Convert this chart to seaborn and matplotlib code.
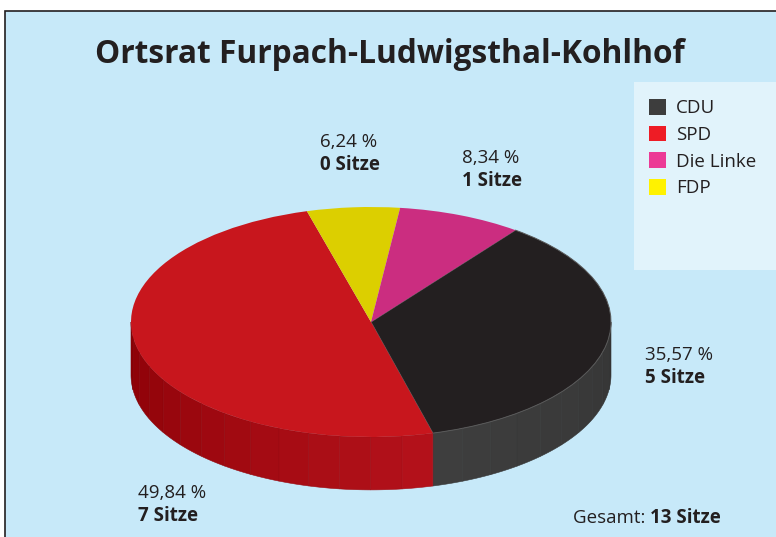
import numpy as np
import matplotlib.pyplot as plt
import seaborn as sns
from matplotlib.patches import Rectangle, Polygon, Patch
from matplotlib.colors import to_rgb

# election result, Ortsrat Furpach-Ludwigsthal-Kohlhof
parties = ["CDU", "SPD", "Die Linke", "FDP"]
shares = [35.57, 49.84, 8.34, 6.24]
seats = [5, 7, 1, 0]
total_seats = 13

# clockwise order of the slices in the pie
pie_order = ["CDU", "SPD", "FDP", "Die Linke"]

top_colors = {"CDU": "#231f20", "SPD": "#c8161d", "Die Linke": "#cb2d80", "FDP": "#dccf00"}
legend_colors = {"CDU": "#3d3d3d", "SPD": "#ee1c25", "Die Linke": "#ec3a96", "FDP": "#fff200"}
side_colors = {"CDU": ("#3e3e3e", "#363636"), "SPD": ("#8a0006", "#b5121b"),
               "Die Linke": ("#8e1f5a", "#8e1f5a"), "FDP": ("#9a9100", "#9a9100")}

W, H = 776, 537
BG = "#c7e9f9"
TXT = "#231f20"

sns.set_theme(style="white")
plt.rcParams["font.family"] = ["Open Sans", "DejaVu Sans"]

fig = plt.figure(figsize=(W / 100, H / 100), dpi=100)
fig.patch.set_facecolor("white")

def px(x, y):
    return x / W, 1 - y / H

# framed light blue panel (runs off the right and bottom edges)
fig.add_artist(Rectangle(px(5, H + 10), (W + 5) / W, (H - 1) / H, transform=fig.transFigure,
                         facecolor=BG, edgecolor=TXT, linewidth=1.2, zorder=0))
# legend panel
fig.add_artist(Rectangle(px(634, 270), (W - 634 + 5) / W, (270 - 82) / H, transform=fig.transFigure,
                         facecolor="#e1f3fb", edgecolor="none", zorder=0.5))

ax = fig.add_axes([0, 0, 1, 1])
ax.set_facecolor("none")

vals = [shares[parties.index(p)] for p in pie_order]
wedges, _ = ax.pie(vals, startangle=53, counterclock=False,
                   colors=[top_colors[p] for p in pie_order],
                   wedgeprops=dict(linewidth=0))
wedges[0].set_edgecolor("#5a5a5a")
wedges[0].set_linewidth(0.7)
for w in wedges:
    w.set_zorder(3)

# side wall of the visible (front) half
depth = 0.46
for w, p in zip(wedges, pie_order):
    t1, t2 = w.theta1, w.theta2
    for off in (-360, 0, 360):
        lo, hi = max(t1, 180 + off), min(t2, 360 + off)
        if hi <= lo:
            continue
        c0, c1 = np.array(to_rgb(side_colors[p][0])), np.array(to_rgb(side_colors[p][1]))
        nf = max(1, int((hi - lo) / 7))
        edges = np.linspace(lo, hi, nf + 1)
        for k in range(nf):
            f = (k + 0.5) / nf
            col = c0 + (c1 - c0) * f
            th = np.radians(np.linspace(edges[k], edges[k + 1], 12))
            top = np.column_stack([np.cos(th), np.sin(th)])
            bot = np.column_stack([np.cos(th), np.sin(th) - depth])[::-1]
            ax.add_patch(Polygon(np.vstack([top, bot]), closed=True, facecolor=col,
                                 edgecolor=np.clip(col * 0.92, 0, 1), linewidth=0.4, zorder=2))

# stretch the unit pie into an ellipse
cx, cy, rx, ry = 371, 322, 240, 115
ax.set_aspect("auto")
ax.set_xlim(-cx / rx, (W - cx) / rx)
ax.set_ylim(-(H - cy) / ry, cy / ry)
ax.axis("off")

fig.text(*px(390, 63), "Ortsrat Furpach-Ludwigsthal-Kohlhof", ha="center", va="baseline",
         fontsize=22.8, fontweight="bold", color=TXT)

label_anchor = {"CDU": (645, 360), "SPD": (138, 498), "Die Linke": (462, 163), "FDP": (320, 147)}
for p, s, n in zip(parties, shares, seats):
    x, y = label_anchor[p]
    fig.text(*px(x, y), f"{s:.2f} %".replace(".", ","), ha="left", va="baseline",
             fontsize=13.5, color=TXT)
    fig.text(*px(x, y + 23), f"{n} Sitze", ha="left", va="baseline",
             fontsize=13.5, fontweight="bold", color=TXT)

t = fig.text(*px(573, 523), "Gesamt: ", ha="left", va="baseline", fontsize=13.5, color=TXT)
fig.canvas.draw()
bb = t.get_window_extent()
fig.text(bb.x1 / W, 1 - 523 / H, f"{total_seats} Sitze", ha="left", va="baseline",
         fontsize=13.5, fontweight="bold", color=TXT)

handles = [Patch(facecolor=legend_colors[p], edgecolor="none") for p in parties]
fig.legend(handles, parties, loc="upper left", bbox_to_anchor=px(649, 99), frameon=False,
           fontsize=13.5, handlelength=0.9, handleheight=0.9, handletextpad=0.55,
           labelspacing=0.45, borderpad=0, borderaxespad=0, labelcolor=TXT)

fig.savefig("out.png", dpi=100, facecolor=fig.get_facecolor())
